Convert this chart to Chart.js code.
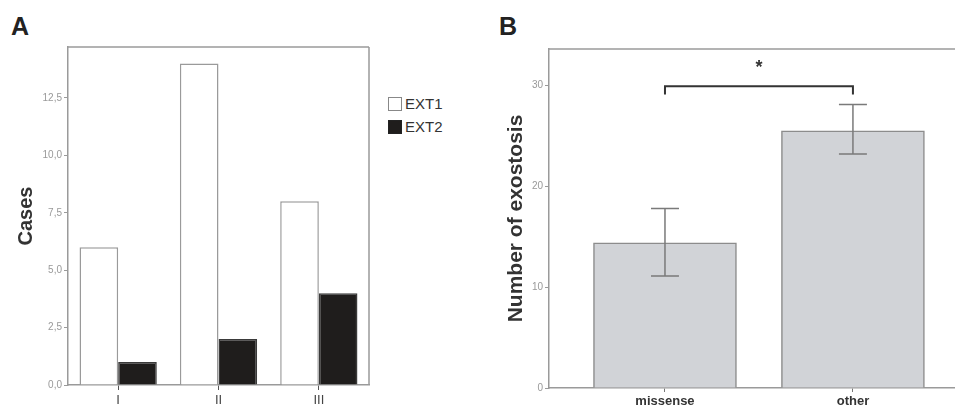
<!DOCTYPE html>
<html>
<head>
<meta charset="utf-8">
<script src="https://cdn.jsdelivr.net/npm/chart.js@4.4.1/dist/chart.umd.min.js"></script>
<style>
  body { margin:0; width:955px; height:410px; overflow:hidden; background:#fff; font-family:'Liberation Sans', Arial, sans-serif; }
  .panel { position:absolute; top:0; }
  .tag { position:absolute; top:12px; font-weight:bold; font-size:25px; color:#222; }
  #legA { position:absolute; left:388px; top:92px; font-size:15px; color:#333; }
  #legA div { display:flex; align-items:center; height:23px; }
  #legA span.sw { display:inline-block; width:14px; height:14px; margin-right:3px; box-sizing:border-box; }
</style>
</head>
<body>
<div class="tag" style="left:11px">A</div>
<div class="tag" style="left:499px">B</div>
<div class="panel" style="left:0"><canvas id="cA" width="380" height="410"></canvas></div>
<div id="legA"></div>
<div class="panel" style="left:480px"><canvas id="cB" width="475" height="410"></canvas></div>
<script>
// panel A - cases per grade
const grades = ['I', 'II', 'III']
const ext1 = [6, 14, 8]
const ext2 = [1, 2, 4]
const casesTicks = [0, 2.5, 5, 7.5, 10, 12.5]

// panel B - mean number of exostoses with error bars
const groups = ['missense', 'other']
const meanExo = [14.4, 25.5]
const errLow = [11.1, 23.2]
const errHigh = [17.8, 28.1]
const exoTicks = [0, 10, 20, 30]
const sigLine = 29.9, sigTip = 29.1, sigStar = 31.7

Chart.defaults.font.family = "'Liberation Sans', Arial, sans-serif"
Chart.defaults.animation = false

const axisGrey = '#9a9a9a'
const tickFont = { size: 10 }

// frame lines round the plot area (top + right for A, top for B)
const frame = sides => ({
  id: 'frame',
  afterDraw(chart) {
    const { ctx, chartArea: a } = chart
    ctx.save()
    ctx.strokeStyle = axisGrey
    ctx.lineWidth = 1.5
    ctx.beginPath()
    ctx.moveTo(a.left, a.top); ctx.lineTo(a.right, a.top)
    if (sides.right) { ctx.moveTo(a.right, a.top); ctx.lineTo(a.right, a.bottom) }
    ctx.stroke()
    ctx.restore()
  }
})

const chartA = new Chart(document.getElementById('cA'), {
  type: 'bar',
  data: {
    labels: grades,
    datasets: [
      { label: 'EXT1', data: ext1, backgroundColor: '#ffffff', borderColor: '#9a9a9a', borderWidth: 1.5 },
      { label: 'EXT2', data: ext2, backgroundColor: '#1f1d1c', borderColor: '#3a3a3a', borderWidth: 1.5 }
    ]
  },
  options: {
    responsive: false,
    devicePixelRatio: 1,
    layout: { padding: { top: 47, right: 11, left: 0, bottom: 0 } },
    plugins: { legend: { display: false }, tooltip: { enabled: false } },
    datasets: { bar: { categoryPercentage: 0.77, barPercentage: 1 } },
    scales: {
      x: {
        grid: { drawOnChartArea: false, offset: false, tickLength: 5, color: '#555' },
        border: { color: axisGrey, width: 1.5 },
        ticks: { color: '#444', font: { size: 13 }, padding: 3 },
        afterFit: s => { s.height = 25 }
      },
      y: {
        min: 0, max: 14.72,
        grid: { drawOnChartArea: false, tickLength: 4, color: axisGrey },
        border: { color: axisGrey, width: 1.5 },
        ticks: { stepSize: 2.5, color: '#999', font: tickFont, padding: 2,
                 callback: v => v.toFixed(1).replace('.', ',') },
        afterBuildTicks: s => { s.ticks = casesTicks.map(v => ({ value: v })) },
        title: { display: true, text: 'Cases', color: '#333', font: { size: 20, weight: 'bold' }, padding: { top: 14 } },
        afterFit: s => { s.width = 68 }
      }
    }
  },
  plugins: [frame({ right: true })]
})

// legend for A from the datasets
document.getElementById('legA').innerHTML = chartA.data.datasets.map(d =>
  '<div><span class="sw" style="background:' + d.backgroundColor + ';border:1.5px solid ' +
  (d.label === 'EXT1' ? '#888' : '#222') + '"></span>' + d.label + '</div>').join('')

const errorBars = {
  id: 'errorBars',
  afterDatasetsDraw(chart) {
    const { ctx, scales: { x, y } } = chart
    ctx.save()
    ctx.strokeStyle = '#7a7a7a'
    ctx.lineWidth = 1.5
    groups.forEach((g, i) => {
      const px = x.getPixelForValue(i)
      const lo = y.getPixelForValue(errLow[i]), hi = y.getPixelForValue(errHigh[i])
      ctx.beginPath()
      ctx.moveTo(px, lo); ctx.lineTo(px, hi)
      ctx.moveTo(px - 14, lo); ctx.lineTo(px + 14, lo)
      ctx.moveTo(px - 14, hi); ctx.lineTo(px + 14, hi)
      ctx.stroke()
    })
    // significance bracket
    const x0 = x.getPixelForValue(0), x1 = x.getPixelForValue(1)
    const yl = y.getPixelForValue(sigLine), yt = y.getPixelForValue(sigTip)
    ctx.strokeStyle = '#333'
    ctx.lineWidth = 2
    ctx.beginPath()
    ctx.moveTo(x0, yt); ctx.lineTo(x0, yl); ctx.lineTo(x1, yl); ctx.lineTo(x1, yt)
    ctx.stroke()
    ctx.fillStyle = '#333'
    ctx.font = "bold 18px 'Liberation Sans', Arial, sans-serif"
    ctx.textAlign = 'center'
    ctx.textBaseline = 'middle'
    ctx.fillText('*', x.getPixelForValue(0.5), y.getPixelForValue(sigStar))
    ctx.restore()
  }
}

new Chart(document.getElementById('cB'), {
  type: 'bar',
  data: {
    datasets: [{
      label: 'Number of exostosis',
      data: meanExo.map((v, i) => ({ x: i, y: v })),
      backgroundColor: '#d1d3d7',
      borderColor: '#8c8c8c',
      borderWidth: 1.5,
      barThickness: 143
    }]
  },
  options: {
    responsive: false,
    devicePixelRatio: 1,
    layout: { padding: { top: 49, right: 0, left: 0, bottom: 0 } },
    plugins: { legend: { display: false }, tooltip: { enabled: false } },
    scales: {
      x: {
        type: 'linear', min: -0.617, max: 1.543, offset: false,
        grid: { drawOnChartArea: false, offset: false, tickLength: 4, color: '#777' },
        border: { color: axisGrey, width: 1.5 },
        ticks: { autoSkip: false, maxRotation: 0, color: '#333', font: { size: 13, weight: 'bold' }, padding: 2,
                 callback: v => groups[v] },
        afterBuildTicks: s => { s.ticks = groups.map((g, i) => ({ value: i })) },
        afterFit: s => { s.height = 22 }
      },
      y: {
        min: 0, max: 33.6,
        grid: { drawOnChartArea: false, tickLength: 4, color: axisGrey },
        border: { color: axisGrey, width: 1.5 },
        ticks: { stepSize: 10, color: '#999', font: tickFont, padding: 2 },
        afterBuildTicks: s => { s.ticks = exoTicks.map(v => ({ value: v })) },
        title: { display: true, text: 'Number of exostosis', color: '#333', font: { size: 21, weight: 'bold' }, padding: { top: 24 } },
        afterFit: s => { s.width = 69 }
      }
    }
  },
  plugins: [errorBars, frame({ right: false })]
})
</script>
</body>
</html>
